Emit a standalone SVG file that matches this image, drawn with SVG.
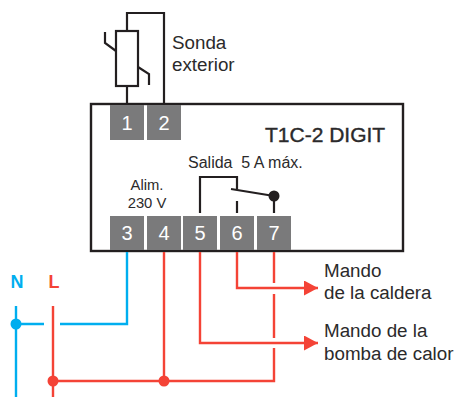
<svg xmlns="http://www.w3.org/2000/svg" width="455" height="397" viewBox="0 0 455 397">
<style>
text{font-family:"Liberation Sans",Arial,sans-serif;fill:#2b2a2b}
.t{fill:#7a7a7b}
.n{font-size:20px;fill:#fff;text-anchor:middle}
.k{fill:none;stroke:#231f20;stroke-width:2.2}
.r{fill:none;stroke:#f44336;stroke-width:2.4}
.b{fill:none;stroke:#00aeef;stroke-width:2.4}
.l{font-size:18.8px}
.s{font-size:14.8px}
</style>
<defs>
<marker id="a" markerUnits="userSpaceOnUse" markerWidth="15" markerHeight="16" refX="14" refY="7.5" orient="auto"><path d="M0 0L14 7.5L0 15Z" fill="#f44336"/></marker>
</defs>
<g id="device"><rect x="91" y="104" width="312" height="147" fill="#fff" stroke="#231f20" stroke-width="2.4"/></g>
<g id="t1"><rect class="t" x="110" y="105" width="34" height="35"/><text class="n" x="127" y="130">1</text></g>
<g id="t2"><rect class="t" x="147" y="105" width="34" height="35"/><text class="n" x="164" y="130">2</text></g>
<g id="t3"><rect class="t" x="110" y="216" width="34" height="34"/><text class="n" x="127" y="240">3</text></g>
<g id="t4"><rect class="t" x="147" y="216" width="34" height="34"/><text class="n" x="164" y="240">4</text></g>
<g id="t5"><rect class="t" x="183" y="216" width="34" height="34"/><text class="n" x="200" y="240">5</text></g>
<g id="t6"><rect class="t" x="220" y="216" width="34" height="34"/><text class="n" x="237" y="240">6</text></g>
<g id="t7"><rect class="t" x="257" y="216" width="34" height="34"/><text class="n" x="274" y="240">7</text></g>
<g id="connectors">
<path class="k" d="M127 104V86M127 31V13H164V104"/>
<path class="k" d="M105 32V43L116 51M138 67L149 74V85"/>
<path class="k" d="M200 213V177H237V189M231 189L274 196M237 201V213M274 196V213"/>
<path class="b" d="M127 252V324H60M44 324H16M16 306V397"/>
<path class="r" d="M53 306V397M53 381H274V348M274 338V294M274 283V252M164 252V381"/>
<path class="r" d="M237 252V288H318" marker-end="url(#a)"/>
<path class="r" d="M200 252V343H318" marker-end="url(#a)"/>
<circle cx="16" cy="324" r="5.5" fill="#00aeef"/>
<circle cx="53" cy="381" r="5.5" fill="#f44336"/>
<circle cx="164" cy="381" r="5.5" fill="#f44336"/>
<circle cx="274" cy="196" r="5.5" fill="#231f20"/>
</g>
<g id="probe"><rect class="k" x="116" y="31" width="22" height="55"/></g>
<g id="labels">
<text class="l" x="172" y="49">Sonda</text>
<text class="l" x="172" y="71">exterior</text>
<text x="265" y="142" font-size="21" stroke="#2b2a2b" stroke-width=".4">T1C-2 DIGIT</text>
<text x="188" y="168" font-size="16" style="white-space:pre">Salida  5 A máx.</text>
<text class="s" x="147" y="190" text-anchor="middle">Alim.</text>
<text class="s" x="147" y="208" text-anchor="middle">230 V</text>
<text class="l" x="324" y="277">Mando</text>
<text class="l" x="324" y="299">de la caldera</text>
<text class="l" x="324" y="337">Mando de la</text>
<text class="l" x="324" y="360">bomba de calor</text>
<text x="17" y="288" font-size="18" font-weight="bold" text-anchor="middle" style="fill:#00aeef">N</text>
<text x="54" y="288" font-size="18" font-weight="bold" text-anchor="middle" style="fill:#f44336">L</text>
</g>
</svg>
